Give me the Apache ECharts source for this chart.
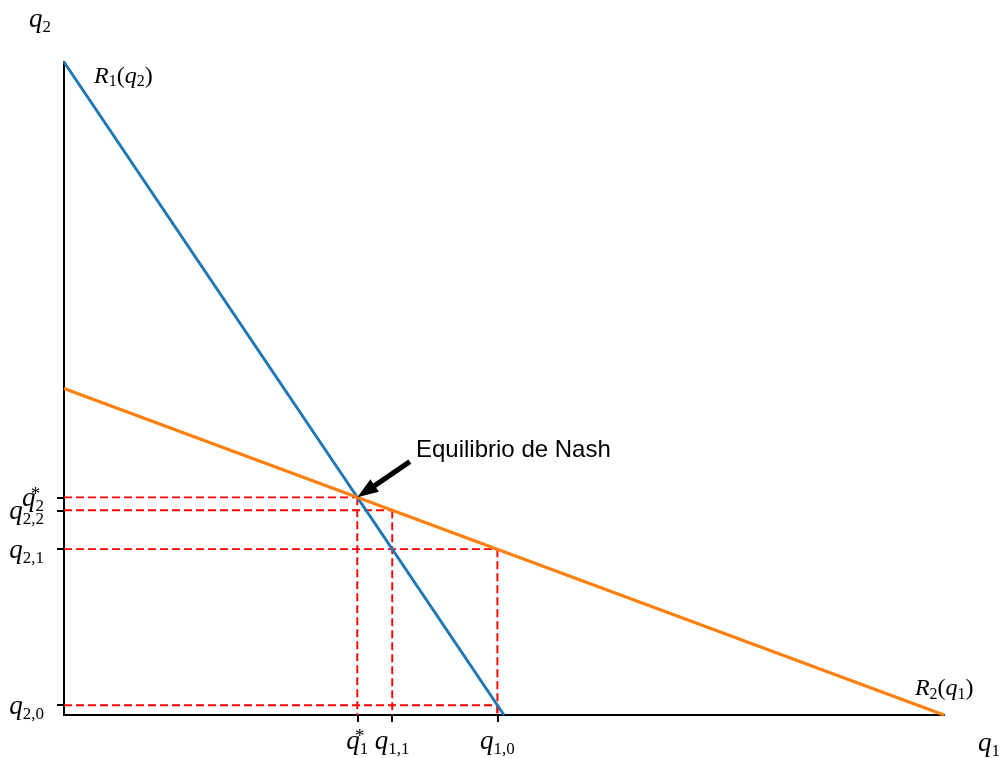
<!DOCTYPE html>
<html>
<head>
<meta charset="utf-8">
<script src="https://cdn.jsdelivr.net/npm/echarts@6/dist/echarts.min.js"></script>
<style>
  html, body { margin: 0; padding: 0; background: #fff; }
  #chart { width: 1000px; height: 758px; }
</style>
</head>
<body>
<div id="chart"></div>
<script>
// Best-response functions of the two firms (end points of each line)
const bestResponse1 = [[0, 10], [5, 0]];   // R1(q2)
const bestResponse2 = [[0, 5], [10, 0]];   // R2(q1)

// Quantities along the adjustment path and the Nash equilibrium
const q1Values = [3.333, 3.73, 4.925];
const q1Labels = ['q1*', 'q1,1', 'q1,0'];
const q2Values = [3.333, 3.135, 2.54, 0.15];
const q2Labels = ['q2*', 'q2,2', 'q2,1', 'q2,0'];

// Points (q1, q2) that the dashed guides join to the axes
const guidePoints = [
  [3.333, 3.333],
  [3.73, 3.135],
  [4.925, 2.54],
  [4.925, 0.15]
];

// Annotation arrow: tail and head in data units
const arrowTail = [3.93, 3.88];
const arrowHead = [3.333, 3.333];
const annotationText = 'Equilibrio de Nash';
const annotationAt = [4.0, 4.0];

const SERIF = '"Liberation Serif", "DejaVu Serif", serif';
const mathRich = {
  q: { fontFamily: SERIF, fontStyle: 'italic', fontSize: 27, color: '#000', lineHeight: 30, verticalAlign: 'top' },
  s: { fontFamily: SERIF, fontSize: 17, color: '#000', lineHeight: 9, verticalAlign: 'bottom' },
  st: { fontFamily: SERIF, fontSize: 19, color: '#000', lineHeight: 6, verticalAlign: 'top', width: 0, align: 'left' },
  R: { fontFamily: SERIF, fontStyle: 'italic', fontSize: 24, color: '#000', lineHeight: 26, verticalAlign: 'top' },
  rs: { fontFamily: SERIF, fontSize: 16, color: '#000', lineHeight: 9, verticalAlign: 'bottom' },
  p: { fontFamily: SERIF, fontSize: 24, color: '#000', lineHeight: 26, verticalAlign: 'top' },
  rq: { fontFamily: SERIF, fontStyle: 'italic', fontSize: 24, color: '#000', lineHeight: 26, verticalAlign: 'top' }
};

// 'q1,0' -> q with subscript; trailing '*' becomes a superscript star
function mathLabel(name) {
  const star = name.endsWith('*');
  const sub = name.slice(1).replace('*', '');
  return '{q|q}' + (star ? '{st|*}' : '') + '{s|' + sub + '}';
}
function labelFor(values, labels, v) {
  let best = -1;
  values.forEach((x, i) => { if (Math.abs(x - v) < 1e-6) best = i; });
  return best < 0 ? '' : mathLabel(labels[best]);
}

// Dashed guides: horizontal to the q2 axis, vertical to the q1 axis
const guideStyle = { color: '#ff0000', width: 1.9, type: [8, 4] };
const guideSeries = [];
guidePoints.forEach(([a, b]) => {
  guideSeries.push({
    type: 'line', data: [[0, b], [a, b]], symbol: 'none', silent: true, z: 1,
    lineStyle: guideStyle
  });
  guideSeries.push({
    type: 'line', data: [[a, b], [a, 0]], symbol: 'none', silent: true, z: 1,
    lineStyle: guideStyle
  });
});

const chart = echarts.init(document.getElementById('chart'), null, { renderer: 'canvas' });

const axisCommon = {
  type: 'value', min: 0, max: 10,
  splitLine: { show: false },
  axisLine: { show: true, onZero: false, lineStyle: { color: '#000', width: 2 } },
  axisTick: { show: true, length: 7, lineStyle: { color: '#000', width: 2 } }
};

// An empty label at the axis end keeps the close q2 labels from being thinned out
chart.setOption({
  animation: false,
  backgroundColor: '#fff',
  grid: { left: 64, right: 56, top: 62, bottom: 41, containLabel: false },
  xAxis: Object.assign({}, axisCommon, {
    axisTick: Object.assign({}, axisCommon.axisTick, { customValues: q1Values }),
    axisLabel: {
      customValues: q1Values.concat([10]), interval: 0, hideOverlap: false,
      margin: 13, verticalAlign: 'top', rich: mathRich,
      formatter: v => labelFor(q1Values, q1Labels, v)
    }
  }),
  yAxis: Object.assign({}, axisCommon, {
    axisTick: Object.assign({}, axisCommon.axisTick, { customValues: q2Values }),
    axisLabel: {
      customValues: [0].concat(q2Values, [10]), interval: 0, hideOverlap: false,
      margin: 20, padding: [6, 0, 0, 0], rich: mathRich,
      formatter: v => labelFor(q2Values, q2Labels, v)
    }
  }),
  series: guideSeries.concat([
    {
      type: 'line', data: bestResponse1, symbol: 'none', z: 3,
      lineStyle: { color: '#1f77b4', width: 3 }
    },
    {
      type: 'line', data: bestResponse2, symbol: 'none', z: 3,
      lineStyle: { color: '#ff7f0e', width: 3 }
    },
    {
      type: 'custom', z: 5, silent: true,
      data: [[arrowTail[0], arrowTail[1], arrowHead[0], arrowHead[1]]],
      encode: { x: [0, 2], y: [1, 3] },
      renderItem: function (params, api) {
        const p0 = api.coord([api.value(0), api.value(1)]);
        const p1 = api.coord([api.value(2), api.value(3)]);
        const dx = p1[0] - p0[0], dy = p1[1] - p0[1];
        const len = Math.sqrt(dx * dx + dy * dy);
        const ux = dx / len, uy = dy / len, nx = -uy, ny = ux;
        const headLen = 21, headW = 7.5, shaftW = 2.6;
        const bx = p1[0] - ux * headLen, by = p1[1] - uy * headLen;
        const pts = [
          [p0[0] + nx * shaftW, p0[1] + ny * shaftW],
          [bx + nx * shaftW, by + ny * shaftW],
          [bx + nx * headW, by + ny * headW],
          [p1[0], p1[1]],
          [bx - nx * headW, by - ny * headW],
          [bx - nx * shaftW, by - ny * shaftW],
          [p0[0] - nx * shaftW, p0[1] - ny * shaftW]
        ];
        return { type: 'polygon', shape: { points: pts }, style: { fill: '#000' } };
      }
    }
  ])
});

// Text placed at data positions through the chart's own coordinate system
const annPx = chart.convertToPixel({ gridIndex: 0 }, annotationAt);
const r1Px = chart.convertToPixel({ gridIndex: 0 }, [0.33, 9.95]);
const r2Px = chart.convertToPixel({ gridIndex: 0 }, [9.67, 0.6]);
const axisEndX = chart.convertToPixel({ gridIndex: 0 }, [10, 0]);
const axisEndY = chart.convertToPixel({ gridIndex: 0 }, [0, 10]);

chart.setOption({
  graphic: [
    {
      type: 'text', x: annPx[0], y: annPx[1] + 9, z: 10,
      style: {
        text: annotationText, fill: '#000', align: 'left', verticalAlign: 'bottom',
        font: '24px "Liberation Sans", Arial, sans-serif'
      }
    },
    {
      type: 'text', x: r1Px[0] + 1, y: r1Px[1] - 1, z: 10,
      style: { text: '{R|R}{rs|1}{p|(}{rq|q}{rs|2}{p|)}', rich: mathRich, align: 'left', verticalAlign: 'top' }
    },
    {
      type: 'text', x: r2Px[0], y: r2Px[1] + 1, z: 10,
      style: { text: '{R|R}{rs|2}{p|(}{rq|q}{rs|1}{p|)}', rich: mathRich, align: 'left', verticalAlign: 'top' }
    },
    {
      type: 'text', x: axisEndY[0] - 35, y: axisEndY[1] - 56, z: 10,
      style: { text: '{q|q}{s|2}', rich: mathRich, align: 'left', verticalAlign: 'top' }
    },
    {
      type: 'text', x: axisEndX[0] + 34, y: axisEndX[1] + 15, z: 10,
      style: { text: '{q|q}{s|1}', rich: mathRich, align: 'left', verticalAlign: 'top' }
    }
  ]
});
</script>
</body>
</html>
